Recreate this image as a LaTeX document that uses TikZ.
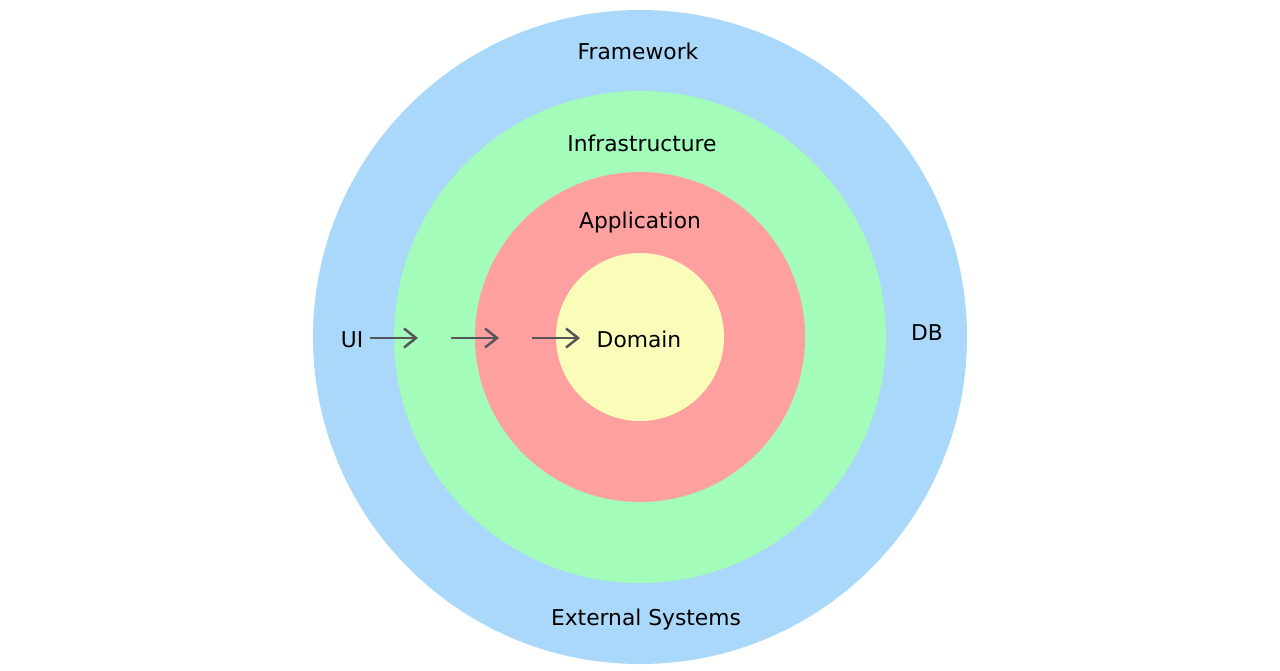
\documentclass[tikz,border=0pt]{standalone}
\usepackage{fontspec}
\setmainfont{DejaVu Sans}
\usepackage{xcolor}
\usetikzlibrary{arrows.meta,positioning,calc}
\definecolor{frameblue}{RGB}{169,216,250}
\definecolor{infragreen}{RGB}{163,252,185}
\definecolor{appred}{RGB}{255,160,160}
\definecolor{domyellow}{RGB}{250,252,185}
\definecolor{flowgray}{RGB}{85,85,90}
\begin{document}
\begin{tikzpicture}[
 x=0.02cm,y=-0.02cm,font=\fontsize{12.4}{14}\selectfont,
 ring/.style={circle,draw=none,inner sep=0pt},
 label/.style={inner sep=1pt,text=black},
 flow/.style={-{Straight Barb[length=2.4mm,width=3.8mm]},line width=1.4pt,draw=flowgray}]
\useasboundingbox (0,0) rectangle (1280,670);
\node[ring,fill=frameblue,minimum size=654*0.02cm] (framework) at (640,337) {};
\node[ring,fill=infragreen,minimum size=492*0.02cm] (infra) at (640,337) {};
\node[ring,fill=appred,minimum size=330*0.02cm] (app) at (640,337) {};
\node[ring,fill=domyellow,minimum size=168*0.02cm] (domain) at (640,337) {};
\node[label] (lframe) at (638,51) {Framework};
\node[label] (linfra) at (642,143) {Infrastructure};
\node[label] (lapp) at (640,222) {Application};
\node[label] (ldomain) at (639,339) {Domain};
\node[label] (lui) at (352,340) {UI};
\node[label] (ldb) at (927,333) {DB};
\node[label] (lext) at (646,619) {External Systems};
\coordinate (a1s) at (370,338);
\coordinate (a1e) at (418,338);
\coordinate (a2s) at (451,338);
\coordinate (a2e) at (499,338);
\coordinate (a3s) at (532,338);
\coordinate (a3e) at (580,338);
\draw[flow] (a1s) -- (a1e);
\draw[flow] (a2s) -- (a2e);
\draw[flow] (a3s) -- (a3e);
\end{tikzpicture}
\end{document}
